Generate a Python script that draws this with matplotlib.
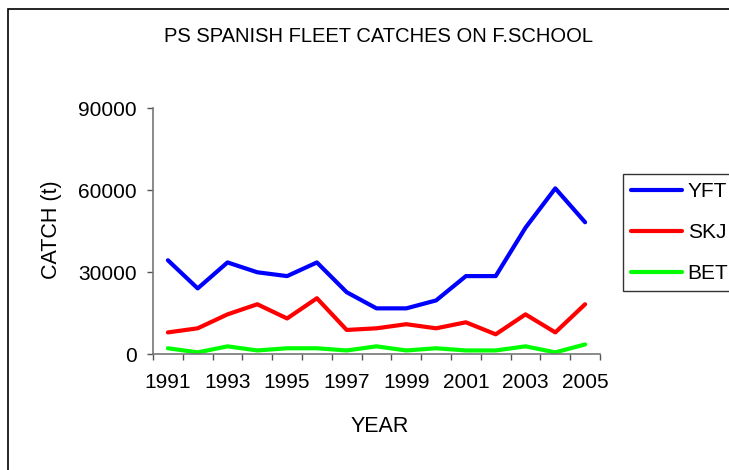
import matplotlib
matplotlib.use("Agg")
import matplotlib.pyplot as plt
from matplotlib.patches import Rectangle

# data
years = list(range(1991, 2006))
yft = [34300, 24000, 33500, 29900, 28500, 33500, 22600, 16700, 16700, 19600,
       28500, 28500, 46200, 60600, 48200]
skj = [7900, 9400, 14500, 18200, 13000, 20400, 8800, 9400, 10900, 9400,
       11600, 7200, 14500, 7900, 18200]
bet = [2100, 600, 2800, 1300, 2100, 2100, 1300, 2800, 1300, 2100,
       1300, 1300, 2800, 600, 3500]
y_ticks = [0, 30000, 60000, 90000]

plt.rcParams['font.family'] = ['Liberation Sans', 'DejaVu Sans']

fig = plt.figure(figsize=(7.29, 4.70), dpi=100)
ax = fig.add_axes([153/729, 1 - 354/470, 447/729, 246/470])

# outer frame of the original chart area (cut off on right and bottom)
fig.patches.append(Rectangle((8/729, -0.1), 1.2, 1 - 9/470 + 0.1,
                             transform=fig.transFigure, fill=False,
                             edgecolor='black', linewidth=1.2))

x = list(range(len(years)))
ax.plot(x, yft, color='#0000ff', linewidth=3, label='YFT', solid_capstyle='round')
ax.plot(x, skj, color='#ff0000', linewidth=3, label='SKJ', solid_capstyle='round')
ax.plot(x, bet, color='#00ff00', linewidth=3, label='BET', solid_capstyle='round')

ax.set_xlim(-0.5, len(years) - 0.5)
ax.set_ylim(0, 90000)
ax.set_yticks(y_ticks)
ax.set_yticklabels([str(v) for v in y_ticks])

# category axis: labels every other year, tick marks between categories
ax.set_xticks(x[::2])
ax.set_xticklabels([str(y) for y in years[::2]])
ax.set_xticks([i - 0.5 for i in range(len(years) + 1)], minor=True)
ax.tick_params(axis='x', which='major', length=0, pad=14, labelsize=15)
ax.tick_params(axis='x', which='minor', length=4.5, width=1, color='#555555')
ax.tick_params(axis='y', length=4.5, width=1, color='#555555', pad=7, labelsize=15)

for s in ['top', 'right']:
    ax.spines[s].set_visible(False)
for s in ['left', 'bottom']:
    ax.spines[s].set_color('#777777')
    ax.spines[s].set_linewidth(1.2)

fig.text(378/729, 1 - 37/470, 'PS SPANISH FLEET CATCHES ON F.SCHOOL',
         ha='center', va='center', fontsize=14.5)
fig.text(380/729, 1 - 427/470, 'YEAR', ha='center', va='center', fontsize=15.5)
fig.text(52/729, 1 - 230/470, 'CATCH (t)', ha='center', va='center',
         rotation=90, fontsize=15.5)

leg = ax.legend(loc='upper left', bbox_to_anchor=(623/729, 1 - 174/470),
                bbox_transform=fig.transFigure, frameon=True, fancybox=False,
                fontsize=15, handlelength=2.45, handletextpad=0.25,
                labelspacing=1.05, borderpad=0.4, borderaxespad=0)
leg.get_frame().set_edgecolor('black')
leg.get_frame().set_linewidth(1)

fig.savefig('out.png', dpi=100)
